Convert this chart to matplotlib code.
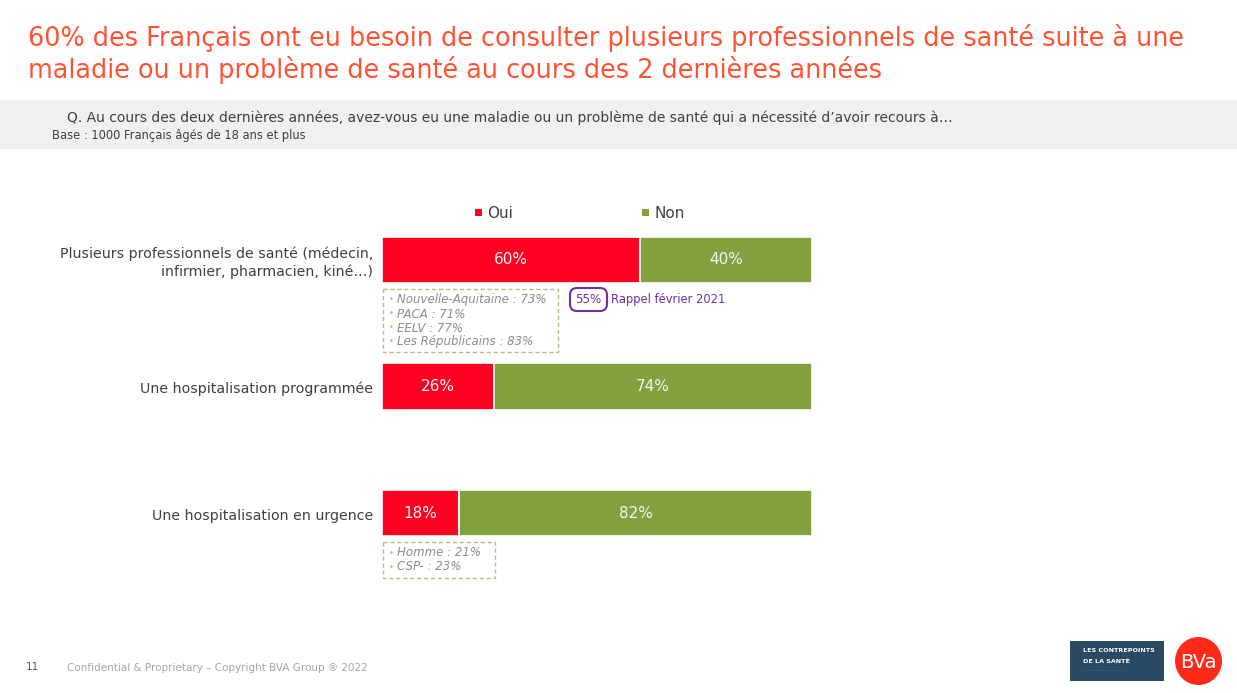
import matplotlib
matplotlib.use("Agg")
import matplotlib.pyplot as plt
from matplotlib.patches import Rectangle, FancyBboxPatch, Ellipse

# ---- data ----
categories = ["Plusieurs professionnels de santé (médecin,\ninfirmier, pharmacien, kiné…)",
              "Une hospitalisation programmée",
              "Une hospitalisation en urgence"]
oui = [60, 26, 18]
non = [40, 74, 82]
series_names = ["Oui", "Non"]
box1_items = ["Nouvelle-Aquitaine : 73%", "PACA : 71%", "EELV : 77%", "Les Républicains : 83%"]
box3_items = ["Homme : 21%", "CSP- : 23%"]
rappel_value = "55%"
rappel_label = "Rappel février 2021"

title_lines = ["60% des Français ont eu besoin de consulter plusieurs professionnels de santé suite à une",
               "maladie ou un problème de santé au cours des 2 dernières années"]
question = "Q. Au cours des deux dernières années, avez-vous eu une maladie ou un problème de santé qui a nécessité d’avoir recours à…"
base = "Base : 1000 Français âgés de 18 ans et plus"
footer = "Confidential & Proprietary – Copyright BVA Group ® 2022"

RED = "#FF0022"
GREEN = "#82A03E"
TITLE_C = "#FF5232"
PURPLE = "#7030A0"

W, H = 1237, 693
fig = plt.figure(figsize=(W / 100, H / 100), dpi=100)
fig.patch.set_facecolor("white")

def fx(x): return x / W
def fy(y): return 1 - y / H

# overlay axes in pixel coords for decorations
deco = fig.add_axes([0, 0, 1, 1])
deco.set_xlim(0, W)
deco.set_ylim(H, 0)
deco.axis("off")

# title
for k, line in enumerate(title_lines):
    deco.text(28, 46 + k * 32, line, fontsize=18.4, color=TITLE_C, va="baseline", ha="left")
# gray band
deco.add_patch(Rectangle((0, 100), W, 49, facecolor="#F0F0F0", edgecolor="none"))
deco.text(67, 118, question, fontsize=10.0, color="#404040", va="center")
deco.text(52, 136, base, fontsize=8.3, color="#404040", va="center")

# main bar axes
ax = fig.add_axes([fx(382), fy(576.25), fx(812) - fx(382), (576.25 - 196.75) / H])
ypos = list(range(len(categories)))
bh = 0.364
ax.barh(ypos, oui, height=bh, color=RED, edgecolor="white", linewidth=1.2, label=series_names[0])
ax.barh(ypos, non, left=oui, height=bh, color=GREEN, edgecolor="white", linewidth=1.2, label=series_names[1])
ax.set_xlim(0, 100)
ax.set_ylim(2.5, -0.5)
ax.axis("off")
for i in ypos:
    ax.text(oui[i] / 2, i, f"{oui[i]}%", ha="center", va="center", color="#F4F4F4", fontsize=11)
    ax.text(oui[i] + non[i] / 2, i, f"{non[i]}%", ha="center", va="center", color="#F4F4F4", fontsize=11)
    ax.text(-2.1, i + 0.02, categories[i], ha="right", va="center", color="#404040", fontsize=10.2,
            linespacing=1.35, clip_on=False)

# legend
deco.add_patch(Rectangle((475, 209), 7, 7, facecolor=RED, edgecolor="none"))
deco.text(487, 213, series_names[0], fontsize=11, color="#404040", va="center")
deco.add_patch(Rectangle((642, 209), 7, 7, facecolor=GREEN, edgecolor="none"))
deco.text(654, 213, series_names[1], fontsize=11, color="#404040", va="center")

# dashed boxes
def dashed_box(x0, y0, x1, y1, items):
    deco.add_patch(Rectangle((x0, y0), x1 - x0, y1 - y0, facecolor="none",
                             edgecolor="#A9C47F", linestyle=(0, (3, 2)), linewidth=1.0))
    for k, it in enumerate(items):
        yy = y0 + 11 + k * 14
        deco.text(x0 + 6, yy, "•", fontsize=6, color="#A9C47F", va="center")
        deco.text(x0 + 14, yy, it, fontsize=8.5, color="#8C8C8C", style="italic", va="center")

dashed_box(383, 289, 558, 352, box1_items)
dashed_box(383, 542, 495, 578, box3_items)

# rappel
deco.add_patch(FancyBboxPatch((570, 288), 37, 23, boxstyle="round,pad=0,rounding_size=7",
                              facecolor="none", edgecolor=PURPLE, linewidth=1.5))
deco.text(588.5, 299.5, rappel_value, fontsize=8.6, color=PURPLE, ha="center", va="center")
deco.text(611, 299.5, rappel_label, fontsize=8.3, color=PURPLE, ha="left", va="center")

# footer
deco.text(26, 667, "11", fontsize=7.5, color="#595959", va="center")
deco.text(67, 668, footer, fontsize=7.5, color="#A6A6A6", va="center")

# logos
deco.add_patch(Rectangle((1070, 641), 94, 40, facecolor="#2A4A63", edgecolor="none"))
deco.text(1083, 651, "LES CONTREPOINTS", fontsize=4.6, color="white", fontweight="bold", va="center")
deco.text(1083, 661, "DE LA SANTÉ", fontsize=4.6, color="white", fontweight="bold", va="center")
deco.text(1083, 671, "· · · · · · · · · · · · · · · · ·", fontsize=3, color="#C8D0D8", va="center")
deco.add_patch(Ellipse((1198.5, 661), 47, 48, facecolor="#FF2A1A", edgecolor="none"))
deco.text(1198.5, 662, "BVa", fontsize=14, color="white", ha="center", va="center")

fig.savefig("out.png", dpi=100)
